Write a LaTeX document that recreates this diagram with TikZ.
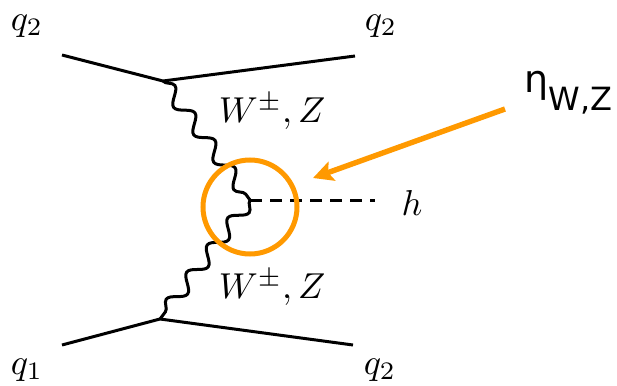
\documentclass[tikz,border=0pt]{standalone}
\usepackage{fontspec}
\newfontfamily\etafont{DejaVu Sans}
\usetikzlibrary{decorations.pathmorphing,arrows.meta}
\definecolor{etaorange}{RGB}{255,153,0}
\newcommand{\biglbl}[1]{\scalebox{1.8}{$#1$}}
\begin{document}
\begin{tikzpicture}[x=0.5pt,y=-0.5pt,
  fermion/.style={line width=1.5pt,line join=round},
  boson/.style={line width=1.5pt,decorate,decoration={snake,segment length=17pt,amplitude=3.5pt}},
  higgs/.style={line width=1.5pt,dash pattern=on 6pt off 4pt},
  lbl/.style={inner sep=1pt}]
\useasboundingbox (0,0) rectangle (617,386);
\coordinate (a1) at (62,55);
\coordinate (v1) at (163,81);
\coordinate (b1) at (355,56);
\coordinate (a2) at (62,345);
\coordinate (v2) at (160,319);
\coordinate (b2) at (353,345);
\coordinate (vh) at (250,200);
\coordinate (hend) at (375,200);
\draw[fermion] (a1) -- (v1) -- (b1);
\draw[fermion] (a2) -- (v2) -- (b2);
\draw[boson] (v1) -- (vh);
\draw[boson] (vh) -- (v2);
\draw[higgs] (vh) -- (hend);

\node[lbl] (q2a) at (27,26) {\biglbl{q_2}};
\node[lbl] (q2b) at (381,26) {\biglbl{q_2}};
\node[lbl] (q1a) at (27,370) {\biglbl{q_1}};
\node[lbl] (q2c) at (380,370) {\biglbl{q_2}};
\node[lbl] (hlbl) at (412,203) {\biglbl{h}};
\node[lbl] (wz1) at (272,112) {\biglbl{W^{\pm},Z}};
\node[lbl] (wz2) at (272,288) {\biglbl{W^{\pm},Z}};

\node[draw=etaorange,circle,line width=2.5pt,minimum size=47pt,inner sep=0pt] (blob) at (250,207) {};
\node[anchor=base west,font=\etafont,inner sep=0pt] (eta) at (524,92)
  {\fontsize{19}{22}\selectfont η\raisebox{-9pt}{\fontsize{16}{19}\selectfont W,Z}};
\coordinate (etatail) at (505,109);
\coordinate (etatip) at (313,178);
\draw[etaorange,line width=2.7pt,-{Stealth[length=10pt,width=10pt,inset=2pt]}] (etatail) -- (etatip);
\end{tikzpicture}
\end{document}
